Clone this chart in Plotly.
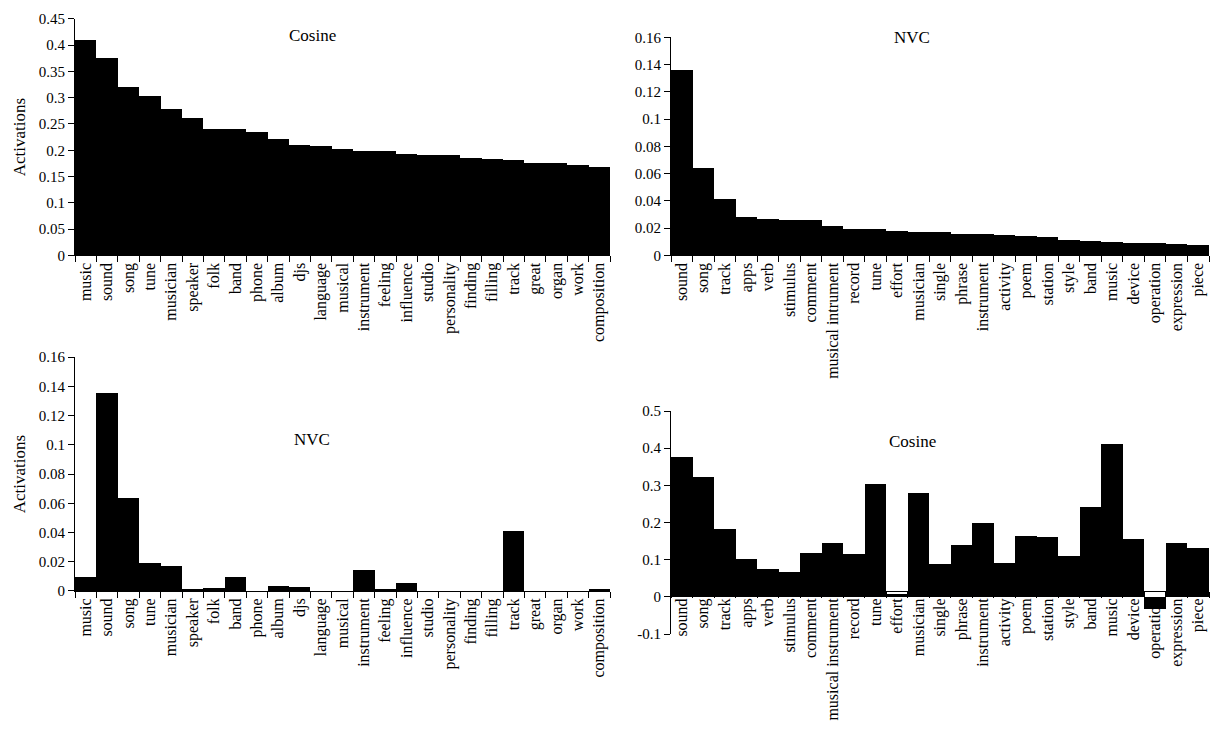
import plotly.graph_objects as go

# ---- data ----
cos_words = ["music", "sound", "song", "tune", "musician", "speaker", "folk", "band", "phone",
             "album", "djs", "language", "musical", "instrument", "feeling", "influence", "studio",
             "personality", "finding", "filling", "track", "great", "organ", "work", "composition"]
cos_vals = [0.410, 0.375, 0.321, 0.303, 0.279, 0.262, 0.241, 0.240, 0.235,
            0.222, 0.210, 0.208, 0.203, 0.200, 0.199, 0.194, 0.192,
            0.191, 0.186, 0.184, 0.182, 0.177, 0.176, 0.173, 0.169]
nvc_on_cos = [0.0093, 0.1357, 0.0638, 0.0189, 0.0168, 0.0014, 0.0021, 0.0095, 0.0,
              0.0034, 0.0028, 0.0, 0.0, 0.0143, 0.0007, 0.0055, 0.0,
              0.0, 0.0, 0.0, 0.0406, 0.0, 0.0, 0.0, 0.0006]

nvc_words_top = ["sound", "song", "track", "apps", "verb", "stimulus", "comment", "musical intrument",
                 "record", "tune", "effort", "musician", "single", "phrase", "instrument", "activity",
                 "poem", "station", "style", "band", "music", "device", "operation", "expression", "piece"]
nvc_words_bottom = ["sound", "song", "track", "apps", "verb", "stimulus", "comment", "musical instrument",
                    "record", "tune", "effort", "musician", "single", "phrase", "instrument", "activity",
                    "poem", "station", "style", "band", "music", "device", "operation", "expression", "piece"]
nvc_vals = [0.1357, 0.0642, 0.0411, 0.0282, 0.0267, 0.0260, 0.0259, 0.0217,
            0.0195, 0.0193, 0.0180, 0.0173, 0.0172, 0.0154, 0.0152, 0.0151,
            0.0144, 0.0130, 0.0110, 0.0101, 0.0094, 0.0087, 0.0087, 0.0084, 0.0077]
cos_on_nvc = [0.377, 0.323, 0.183, 0.101, 0.075, 0.066, 0.119, 0.145,
              0.114, 0.304, 0.008, 0.280, 0.088, 0.140, 0.199, 0.091,
              0.163, 0.160, 0.111, 0.241, 0.411, 0.155, -0.032, 0.145, 0.132]

y1_ticks = [0, 0.05, 0.1, 0.15, 0.2, 0.25, 0.3, 0.35, 0.4, 0.45]
y1_text = ["0", "0.05", "0.1", "0.15", "0.2", "0.25", "0.3", "0.35", "0.4", "0.45"]
y2_ticks = [0, 0.02, 0.04, 0.06, 0.08, 0.1, 0.12, 0.14, 0.16]
y2_text = ["0", "0.02", "0.04", "0.06", "0.08", "0.1", "0.12", "0.14", "0.16"]
y4_ticks = [-0.1, 0, 0.1, 0.2, 0.3, 0.4, 0.5]
y4_text = ["-0.1", "0", "0.1", "0.2", "0.3", "0.4", "0.5"]

W, H = 1213, 733
FONT = "Times New Roman, Liberation Serif, serif"


def fx(px):
    return px / W


def fy(py):
    return 1 - py / H


fig = go.Figure()
fig.add_trace(go.Bar(x=cos_words, y=cos_vals, marker=dict(color="black", line=dict(width=0)), xaxis="x", yaxis="y"))
fig.add_trace(go.Bar(x=nvc_words_top, y=nvc_vals, marker=dict(color="black", line=dict(width=0)), xaxis="x2", yaxis="y2"))
fig.add_trace(go.Bar(x=cos_words, y=nvc_on_cos, marker=dict(color="black", line=dict(width=0)), xaxis="x3", yaxis="y3"))
fig.add_trace(go.Bar(x=nvc_words_bottom, y=cos_on_nvc, marker=dict(color="black", line=dict(width=0)), xaxis="x4", yaxis="y4"))

xcommon = dict(type="category", tickson="boundaries", ticks="outside", ticklen=6, tickwidth=1,
               tickcolor="black", showline=True, linecolor="black", linewidth=1, showgrid=False,
               tickangle=-90, tickfont=dict(family=FONT, size=16, color="black"), zeroline=False)
ycommon = dict(ticks="outside", ticklen=6, tickwidth=1, tickcolor="black", showline=True,
               linecolor="black", linewidth=1, showgrid=False, zeroline=False,
               tickfont=dict(family=FONT, size=15, color="black"))

# pixel layout
L1, R1 = 75, 610
L2, R2 = 671, 1209
T1, B1 = 11, 253
T2 = 30
T3, B3 = 357, 596
T4, B4 = 412, 640
Z4 = 596

fig.update_layout(
    width=W, height=H, margin=dict(l=0, r=0, t=0, b=0),
    paper_bgcolor="white", plot_bgcolor="white", showlegend=False, bargap=0,
    font=dict(family=FONT, color="black"),
    xaxis=dict(xcommon, domain=[fx(L1), fx(R1)], anchor="y"),
    yaxis=dict(ycommon, domain=[fy(B1), fy(T1)], range=[0, 0.45], tickvals=y1_ticks, ticktext=y1_text,
               anchor="x", title=dict(text="Activations", font=dict(family=FONT, size=17, color="black"), standoff=8)),
    xaxis2=dict(xcommon, domain=[fx(L2), fx(R2)], anchor="y2"),
    yaxis2=dict(ycommon, domain=[fy(B1), fy(T2)], range=[0, 0.16], tickvals=y2_ticks, ticktext=y2_text, anchor="x2"),
    xaxis3=dict(xcommon, domain=[fx(L1), fx(R1)], anchor="y3"),
    yaxis3=dict(ycommon, domain=[fy(B3), fy(T3)], range=[0, 0.16], tickvals=y2_ticks, ticktext=y2_text,
                anchor="x3", title=dict(text="Activations", font=dict(family=FONT, size=17, color="black"), standoff=8)),
    xaxis4=dict(xcommon, domain=[fx(L2), fx(R2)], anchor="free", position=fy(Z4), layer="below traces"),
    yaxis4=dict(ycommon, domain=[fy(B4), fy(T4)], range=[-0.1, 0.5], tickvals=y4_ticks, ticktext=y4_text, anchor="x4"),
)

titles = [("Cosine", "x domain", "y domain", 0.443, 0.93),
          ("NVC", "x2 domain", "y2 domain", 0.448, 1.0),
          ("NVC", "x3 domain", "y3 domain", 0.443, 0.65),
          ("Cosine", "x4 domain", "y4 domain", 0.448, 0.865)]
for text, xr, yr, xx, yy in titles:
    fig.add_annotation(text=text, xref=xr, yref=yr, x=xx, y=yy, showarrow=False,
                       xanchor="center", yanchor="middle",
                       font=dict(family=FONT, size=17, color="black"))

fig.write_html("out.html", config={"displayModeBar": False},
               post_script="document.body.style.margin='0px';document.body.style.overflow='hidden';")
